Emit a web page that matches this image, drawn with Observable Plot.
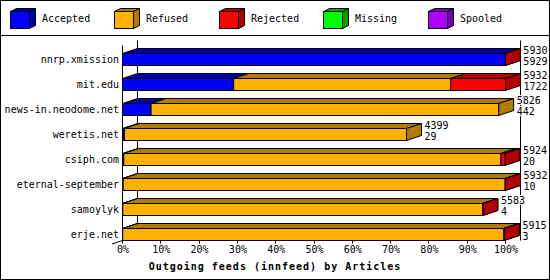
<!DOCTYPE html>
<html>
<head>
<meta charset="utf-8">
<script src="https://cdn.jsdelivr.net/npm/d3@7"></script>
<script src="https://cdn.jsdelivr.net/npm/@observablehq/plot@0.6"></script>
<style>
  body { margin: 0; background: #fff; }
  #wrap { position: relative; width: 550px; height: 280px; box-sizing: border-box; border: 1px solid #000; background: #fff; font-family: "DejaVu Sans Mono", monospace; overflow: hidden; }
  #legend { position: relative; height: 34px; border-bottom: 1px solid #000; }
  .item { position: absolute; top: 0; height: 34px; width: 100px; }
  .item svg { position: absolute; left: 0; top: 6px; overflow: visible; }
  .item span { position: absolute; left: 32px; top: 12px; font-size: 10px; line-height: 12px; white-space: nowrap; color: #000; }
  #chart svg { display: block; }
</style>
</head>
<body>
<div id="wrap">
  <div id="legend"></div>
  <div id="chart"></div>
</div>
<script>
// ---- data ----
const categories = ["nnrp.xmission", "mit.edu", "news-in.neodome.net", "weretis.net", "csiph.com", "eternal-september", "samoylyk", "erje.net"];
const totals   = [5930, 5932, 5826, 4399, 5924, 5932, 5583, 5915];
const accepted = [5929, 1722, 442, 29, 20, 10, 4, 3];
const refused  = [0, 3361, 5384, 4370, 5842, 5916, 5574, 5904];
const rejected = [1, 849, 0, 0, 62, 6, 5, 8];
const missing  = [0, 0, 0, 0, 0, 0, 0, 0];
const spooled  = [0, 0, 0, 0, 0, 0, 0, 0];
const seriesNames  = ["Accepted", "Refused", "Rejected", "Missing", "Spooled"];
const seriesColors = ["#0000ff", "#ffb000", "#ff0000", "#00ff00", "#b000ff"];
const seriesDark   = ["#0000a8", "#b07c00", "#b00000", "#00a000", "#7400b0"];
const xTicks = [0, 10, 20, 30, 40, 50, 60, 70, 80, 90, 100];
const xTitle = "Outgoing feeds (innfeed) by Articles";

// ---- derived tables ----
const seriesValues = [accepted, refused, rejected, missing, spooled];
const maxTotal = d3.max(totals);
const rows = [];
seriesNames.forEach((s, si) => {
  categories.forEach((c, ci) => {
    const v = seriesValues[si][ci];
    if (v > 0) rows.push({host: c, series: s, pct: v / maxTotal * 100});
  });
});
const labelRows = categories.map((c, i) => ({host: c, pct: totals[i] / maxTotal * 100, total: totals[i], acc: accepted[i]}));
const darkOf = Object.fromEntries(seriesColors.map((c, i) => [c, seriesDark[i]]));

const D = 15, E = 5; // 3D depth offset in pixels
const svgNS = "http://www.w3.org/2000/svg";

// ---- legend ----
const legendEl = document.getElementById("legend");
const legendLeft = [9, 113, 218, 322, 427];
seriesNames.forEach((s, i) => {
  const item = document.createElement("div");
  item.className = "item";
  item.style.left = legendLeft[i] + "px";
  item.innerHTML =
    `<svg width="27" height="23">` +
    `<path d="M0.5,4.5H19.5L25.5,1.5H6.5Z" fill="${seriesDark[i]}" stroke="#000"/>` +
    `<path d="M19.5,4.5V21.5L25.5,18.5V1.5Z" fill="${seriesDark[i]}" stroke="#000"/>` +
    `<rect x="0.5" y="4.5" width="19" height="17" fill="${seriesColors[i]}" stroke="#000"/>` +
    `</svg><span>${s}</span>`;
  legendEl.appendChild(item);
});

// ---- 3D rendering helpers ----
function mkPath(d, fill) {
  const p = document.createElementNS(svgNS, "path");
  p.setAttribute("d", d);
  p.setAttribute("fill", fill);
  p.setAttribute("stroke", "#000");
  return p;
}
function bars3d(index, scales, values, dimensions, context, next) {
  const g = next(index, scales, values, dimensions, context);
  for (const r of Array.from(g.querySelectorAll("rect"))) {
    const x = +r.getAttribute("x"), y = +r.getAttribute("y");
    const w = +r.getAttribute("width"), h = +r.getAttribute("height");
    const dark = darkOf[r.getAttribute("fill")] || "#444";
    const top = mkPath(`M${x},${y}L${x + w},${y}L${x + w + D},${y - E}L${x + D},${y - E}Z`, dark);
    const side = mkPath(`M${x + w},${y}L${x + w},${y + h}L${x + w + D},${y + h - E}L${x + w + D},${y - E}Z`, dark);
    r.parentNode.insertBefore(top, r);
    r.parentNode.insertBefore(side, r);
  }
  return g;
}
function backBox(index, scales, values, dim) {
  const x0 = scales.x(0), x1 = scales.x(100);
  const top = dim.marginTop, bot = dim.height - dim.marginBottom;
  const g = document.createElementNS(svgNS, "g");
  g.appendChild(mkPath(`M${x0 + D},${top - E}V${bot - E}M${x1 + D},${top - E}V${bot}`, "none"));
  return g;
}
function frontBox(index, scales, values, dim) {
  const X = scales.x;
  const x0 = X(0), x1 = X(100);
  const top = dim.marginTop, bot = dim.height - dim.marginBottom;
  let d = `M${x0},${top}V${bot}M${x0},${bot}H${x1}M${x0},${bot}L${x0 - 10.5},${bot + 3.5}`;
  for (const t of xTicks) {
    const xt = Math.round(X(t) - 0.5) + 0.5;
    d += `M${xt},${bot}V${bot + 3}`;
  }
  const g = document.createElementNS(svgNS, "g");
  g.appendChild(mkPath(d, "none"));
  return g;
}
function spaced(index, scales, values, dimensions, context, next) {
  const g = next(index, scales, values, dimensions, context);
  g.setAttribute("letter-spacing", "1px");
  return g;
}

// ---- chart ----
const chart = Plot.plot({
  width: 548,
  height: 243,
  marginLeft: 121.5,
  marginRight: 43.5,
  marginTop: 9.5,
  marginBottom: 38.5,
  style: {fontFamily: "DejaVu Sans Mono", fontSize: "10px", background: "#fff", color: "#000", overflow: "visible"},
  x: {domain: [0, 100], axis: null},
  y: {domain: categories, range: [4.5, 217.5], padding: 0.52, round: false, axis: null},
  color: {domain: seriesNames, range: seriesColors},
  marks: [
    backBox,
    Plot.barX(rows, {x: "pct", y: "host", fill: "series", stroke: "#000", strokeWidth: 1, render: bars3d}),
    frontBox,
    Plot.text(categories, {x: () => 0, y: d => d, text: d => d, textAnchor: "end", dx: -4, fill: "#000"}),
    Plot.text(labelRows, {x: "pct", y: "host", text: d => String(d.total), textAnchor: "start", dx: 17.5, dy: -9.5, fill: "#000", stroke: "#fff", strokeWidth: 2}),
    Plot.text(labelRows, {x: "pct", y: "host", text: d => String(d.acc), textAnchor: "start", dx: 17.5, dy: 1.5, fill: "#000", stroke: "#fff", strokeWidth: 2}),
    Plot.text(xTicks, {x: d => d, text: d => d + "%", frameAnchor: "bottom", lineAnchor: "top", dy: 5, fill: "#000"}),
    Plot.text([xTitle], {frameAnchor: "bottom", lineAnchor: "middle", dx: -39.5, dy: 25.5, fontWeight: "bold", fill: "#000", render: spaced})
  ]
});
document.getElementById("chart").appendChild(chart);
</script>
</body>
</html>
